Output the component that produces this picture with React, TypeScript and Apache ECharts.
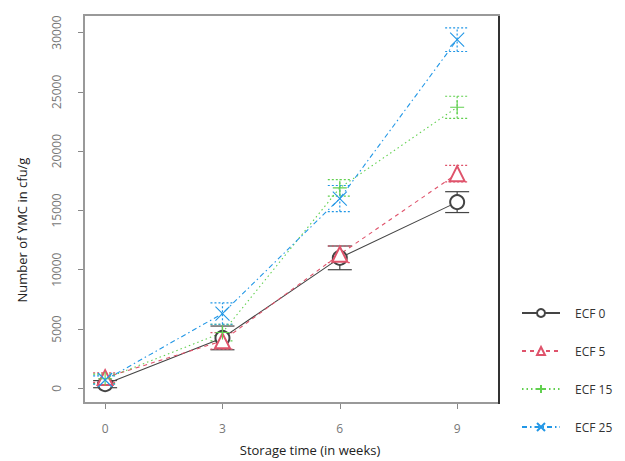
import React, { useEffect, useRef } from "react";
import * as echarts from "echarts";

const weeks = [0, 3, 6, 9];
const seriesNames = ["ECF 0", "ECF 5", "ECF 15", "ECF 25"];
const ecf0 = [350, 4250, 11000, 15700];
const ecf5 = [900, 4000, 11300, 18100];
const ecf15 = [800, 4700, 16900, 23700];
const ecf25 = [700, 6300, 16000, 29400];
const err0 = [300, 1000, 1000, 880];
const err5 = [400, 700, 700, 700];
const err15 = [400, 700, 700, 930];
const err25 = [350, 900, 1100, 1000];
const yTicks = [0, 5000, 10000, 15000, 20000, 25000, 30000];
const xTicks = [0, 3, 6, 9];

const colors = ["#444444", "#DF536B", "#61D04F", "#2297E6"];
const lineTypes: any[] = ["solid", [4, 4], [1.5, 3], [5, 3, 1.5, 3]];
const symbols = [
  "emptyCircle",
  "emptyTriangle",
  "path://M0,5L10,5M5,0L5,10",
  "path://M0,0L10,10M10,0L0,10",
];

export default function App() {
  const ref = useRef<HTMLDivElement>(null);
  useEffect(() => {
    if (!ref.current) return;
    const chart = echarts.init(ref.current, undefined, { renderer: "svg" });
    const values = [ecf0, ecf5, ecf15, ecf25];
    const errs = [err0, err5, err15, err25];
    const font = "Open Sans, sans-serif";

    const lineSeries = values.map((vals, i) => ({
      type: "line",
      name: seriesNames[i],
      data: weeks.map((w, j) => [w, vals[j]]),
      symbol: symbols[i],
      symbolSize: i === 1 ? 15 : 14,
      showSymbol: true,
      z: 3,
      lineStyle: { color: colors[i], width: 1.1, type: lineTypes[i] },
      itemStyle: {
        color: i < 2 ? colors[i] : "transparent",
        borderColor: colors[i],
        borderWidth: 1.1,
      },
      emphasis: { disabled: true },
    }));

    const errSeries = values.map((vals, i) => ({
      type: "custom",
      name: seriesNames[i] + " err",
      data: weeks.map((w, j) => [w, vals[j] - errs[i][j], vals[j] + errs[i][j]]),
      z: 2,
      renderItem: (params: any, api: any) => {
        const lo = api.coord([api.value(0), api.value(1)]);
        const hi = api.coord([api.value(0), api.value(2)]);
        const hw = 12;
        const style = {
          stroke: colors[i],
          lineWidth: 1.2,
          lineDash: i === 0 ? null : [2, 2],
        };
        return {
          type: "group",
          children: [
            { type: "line", shape: { x1: lo[0], y1: lo[1], x2: hi[0], y2: hi[1] }, style },
            { type: "line", shape: { x1: lo[0] - hw, y1: lo[1], x2: lo[0] + hw, y2: lo[1] }, style },
            { type: "line", shape: { x1: hi[0] - hw, y1: hi[1], x2: hi[0] + hw, y2: hi[1] }, style },
          ],
        };
      },
    }));

    chart.setOption({
      animation: false,
      grid: { left: 84, top: 15, right: 126, bottom: 58, show: false },
      xAxis: {
        type: "value",
        min: -0.54,
        max: 10.07,
        axisLine: { show: false, onZero: false },
        splitLine: { show: false },
        axisTick: { show: true, customValues: xTicks, length: 6, lineStyle: { color: "#888" } },
        axisLabel: {
          customValues: xTicks,
          formatter: (v: number) => String(v),
          margin: 19,
          color: "#777",
          fontSize: 12,
          fontFamily: font,
        },
      },
      yAxis: {
        type: "value",
        min: -1240,
        max: 31480,
        axisLine: { show: false, onZero: false },
        splitLine: { show: false },
        axisTick: { show: true, customValues: yTicks, length: 6, lineStyle: { color: "#888" } },
        axisLabel: {
          customValues: yTicks,
          formatter: (v: number) => String(v),
          rotate: 90,
          margin: 22,
          color: "#777",
          fontSize: 12,
          fontFamily: font,
        },
      },
      legend: {
        data: seriesNames,
        orient: "vertical",
        left: 516,
        top: 302,
        itemWidth: 38,
        itemHeight: 10,
        itemGap: 26,
        selectedMode: false,
        textStyle: { color: "#333", fontSize: 12, fontFamily: font, padding: [0, 0, 0, 10] },
      },
      graphic: [
        {
          type: "rect",
          shape: { x: 84, y: 15, width: 415, height: 388 },
          style: { fill: "none", stroke: "#999", lineWidth: 2 },
          silent: true,
          z: 1,
        },
        {
          type: "line",
          shape: { x1: 499, y1: 16, x2: 499, y2: 404 },
          style: { stroke: "#111", lineWidth: 1.5 },
          silent: true,
          z: 2,
        },
        {
          type: "text",
          x: 310,
          y: 450,
          style: {
            text: "Storage time (in weeks)",
            fill: "#222",
            fontSize: 13,
            fontFamily: font,
            align: "center",
            verticalAlign: "middle",
          },
        },
        {
          type: "text",
          x: 22,
          y: 230,
          rotation: Math.PI / 2,
          style: {
            text: "Number of YMC in cfu/g",
            fill: "#222",
            fontSize: 13,
            fontFamily: font,
            align: "center",
            verticalAlign: "middle",
          },
        },
      ],
      series: [...errSeries, ...lineSeries],
    });
    return () => chart.dispose();
  }, []);
  return <div ref={ref} style={{ width: 625, height: 461, position: "absolute", left: 0, top: 0 }} />;
}
